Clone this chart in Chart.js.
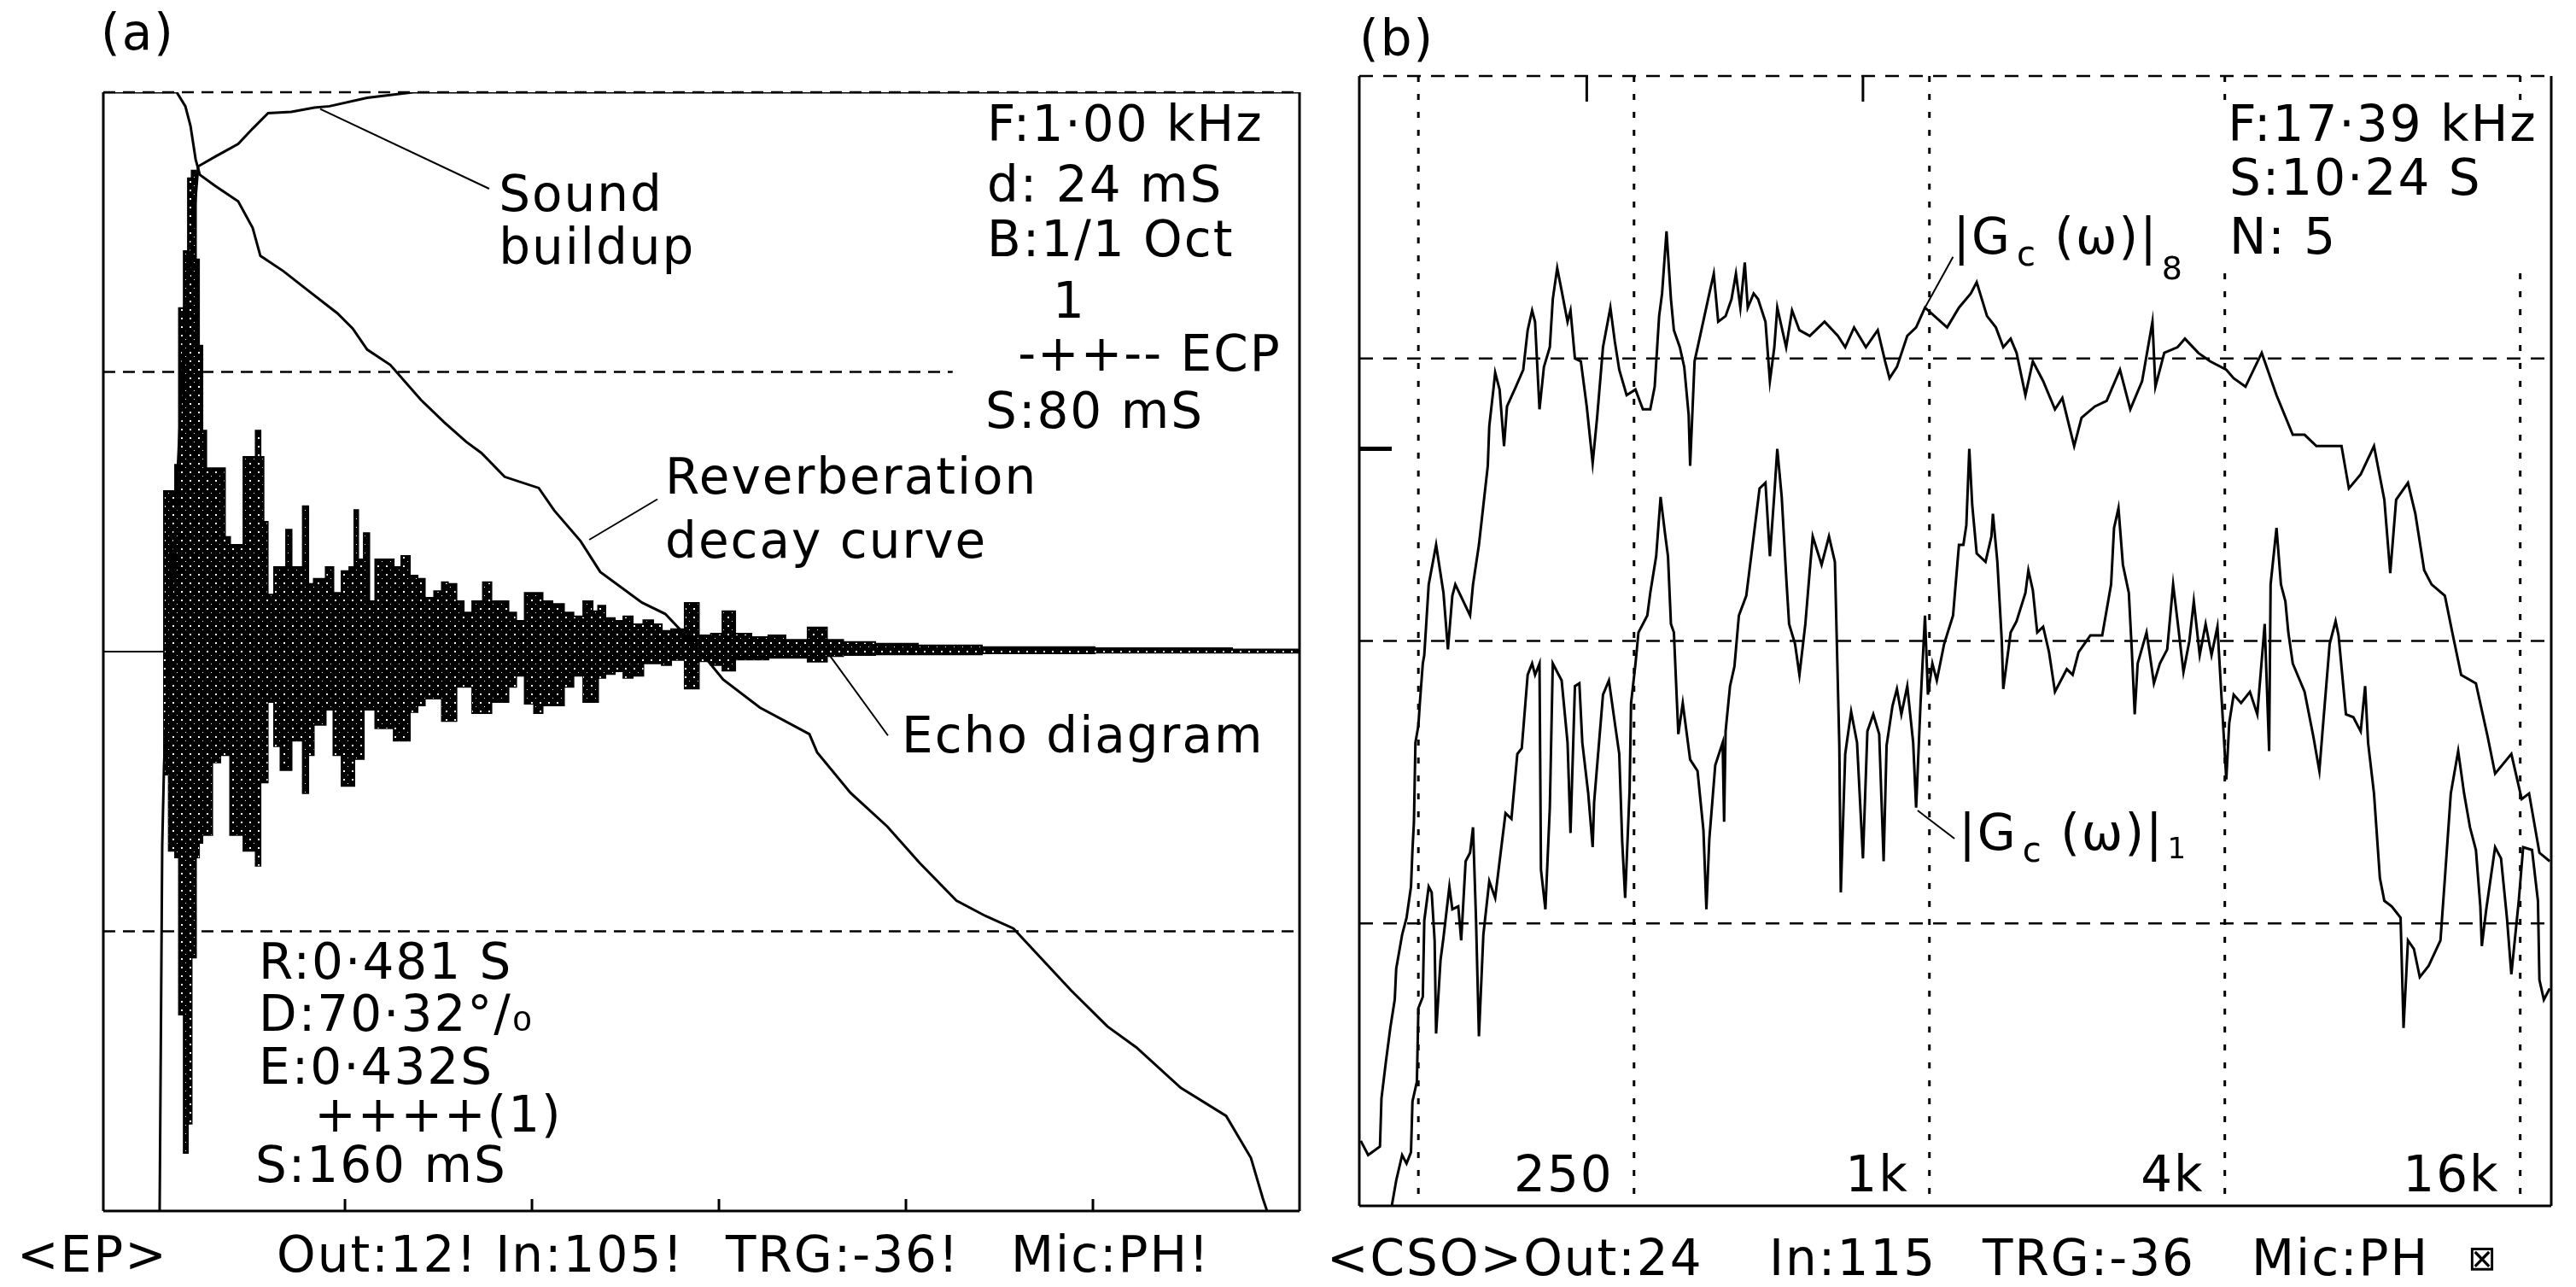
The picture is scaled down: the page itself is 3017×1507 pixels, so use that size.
<!DOCTYPE html>
<html lang="en">
<head>
<meta charset="UTF-8" />
<title>Echo diagram and frequency characteristics</title>
<script src="https://cdn.jsdelivr.net/npm/chart.js@4.4.0/dist/chart.umd.min.js"></script>
<style>
  * { margin: 0; padding: 0; box-sizing: border-box; }
  body { width: 3017px; height: 1507px; background: #fff; position: relative; overflow: hidden;
         font-family: 'DejaVu Sans', sans-serif; color: #000; }
  canvas { position: absolute; top: 0; }
  #chartA { left: 0; }
  #chartB { left: 1555px; }
  .txt { position: absolute; font-size: 58px; line-height: 58px; letter-spacing: 2px; white-space: pre; }
</style>
</head>
<body>
  <canvas id="chartA" width="1555" height="1507"></canvas>
  <canvas id="chartB" width="1462" height="1507"></canvas>

  <div class="txt" style="left:118px; top:9px">(a)</div>
  <div class="txt" style="left:1592px; top:16px">(b)</div>

  <div class="txt" style="left:20px; top:1440px">&lt;EP&gt;</div>
  <div class="txt" style="left:324px; top:1440px">Out:12! In:105!</div>
  <div class="txt" style="left:850px; top:1440px">TRG:-36!</div>
  <div class="txt" style="left:1184px; top:1440px">Mic:PH!</div>

  <div class="txt" style="left:1554px; top:1444px">&lt;CSO&gt;Out:24</div>
  <div class="txt" style="left:2072px; top:1444px">In:115</div>
  <div class="txt" style="left:2322px; top:1444px">TRG:-36</div>
  <div class="txt" style="left:2637px; top:1444px">Mic:PH</div>
  <div class="txt" style="left:2890px; top:1444px; font-size:40px">⊠</div>

<script>
// ---------- panel (a): time in ms, level in dB, echo amplitude relative ----------
const decayT  = [-23.4, 8.0, 11.7, 13.9, 16.1, 17.9, 24.5, 34.3, 40.5, 43.8,
                 53.7, 63.6, 76.7, 83.3, 89.5, 99.4, 112.5, 122.4, 131.9, 138.4,
                 148.3, 162.9, 169.5, 180.8, 189.2, 207.1, 217.0, 230.1, 241.8, 257.5,
                 278.7, 282.0, 296.3, 312.0, 325.8, 341.6, 354.0, 366.0, 390.5, 406.2,
                 418.6, 437.6, 457.0, 467.6, 472.7, 474.5];
const decayDb = [0, 0, -1.0, -2.4, -4.8, -5.9, -6.7, -7.8, -9.7, -11.7,
                 -12.8, -14.1, -15.8, -16.9, -18.4, -19.5, -22.0, -23.6, -25.0, -25.8,
                 -27.5, -28.3, -29.9, -32.1, -34.3, -36.5, -37.3, -39.6, -42.0, -44.0,
                 -45.9, -47.2, -50.1, -52.5, -55.1, -57.8, -58.9, -59.8, -64.2, -66.8,
                 -68.3, -71.2, -73.2, -76.2, -79.1, -80];

const buildT  = [0.7, 1.8, 2.6, 11.0, 17.2, 24.5, 34.3, 40.5, 47.1, 57.0, 66.9, 73.4, 89.5, 109.2, 488.4];
const buildDb = [-80, -53.9, -48.0, -17.8, -5.3, -4.6, -3.7, -2.6, -1.5, -1.4, -1.1, -1.0, -0.4, 0, 0];

const echoT = [-23.4, 2.5, 2.6, 6.6, 8.0, 9.9, 12.1, 13.5, 15.3, 17.2,
               17.9, 20.1, 21.2, 25.2, 28.1, 29.2, 32.5, 35.8, 37.3, 40.5,
               43.1, 44.6, 45.7, 48.2, 51.1, 53.7, 55.9, 58.4, 60.3, 63.6,
               65.0, 68.3, 70.1, 73.4, 76.7, 80.4, 83.3, 84.7, 86.6, 89.5,
               91.3, 94.6, 99.4, 102.3, 105.9, 109.6, 112.5, 115.8, 120.5, 122.4,
               125.7, 129.7, 131.9, 137.0, 141.0, 144.3, 148.3, 151.6, 154.9, 158.9,
               162.9, 166.2, 171.3, 176.1, 179.4, 184.5, 187.4, 189.2, 193.6, 197.3,
               200.9, 205.3, 210.0, 213.7, 217.4, 221.7, 229.0, 233.8, 239.3, 243.7,
               250.2, 257.5, 264.8, 272.1, 283.8, 288.6, 297.7, 316.0, 334.2, 370.8,
               430.7, 488.4];
const echoPos = [0, 0, 0.287, 0.287, 0.334, 0.614, 0.716, 0.846, 0.860, 0.701,
                 0.547, 0.395, 0.328, 0.328, 0.328, 0.205, 0.191, 0.191, 0.348, 0.348,
                 0.395, 0.348, 0.232, 0.102, 0.151, 0.151, 0.218, 0.151, 0.151, 0.260,
                 0.121, 0.130, 0.130, 0.151, 0.105, 0.144, 0.151, 0.253, 0.165, 0.212,
                 0.090, 0.165, 0.165, 0.151, 0.171, 0.136, 0.130, 0.096, 0.108, 0.124,
                 0.121, 0.090, 0.070, 0.090, 0.124, 0.090, 0.090, 0.070, 0.055, 0.105,
                 0.105, 0.090, 0.085, 0.070, 0.063, 0.090, 0.072, 0.082, 0.060, 0.055,
                 0.063, 0.049, 0.056, 0.049, 0.037, 0.040, 0.087, 0.029, 0.032, 0.072,
                 0.032, 0.026, 0.029, 0.021, 0.043, 0.021, 0.017, 0.014, 0.011, 0.008,
                 0.006, 0.004];
const echoNeg = [0, 0, -0.220, -0.356, -0.368, -0.649, -0.896, -0.844, -0.547, -0.368,
                 -0.342, -0.328, -0.328, -0.198, -0.185, -0.185, -0.328, -0.328, -0.356, -0.356,
                 -0.383, -0.234, -0.234, -0.090, -0.169, -0.212, -0.212, -0.159, -0.159, -0.253,
                 -0.185, -0.131, -0.131, -0.104, -0.185, -0.240, -0.240, -0.192, -0.192, -0.104,
                 -0.104, -0.137, -0.137, -0.159, -0.159, -0.108, -0.096, -0.084, -0.084, -0.124,
                 -0.124, -0.063, -0.063, -0.110, -0.110, -0.090, -0.090, -0.063, -0.043, -0.093,
                 -0.110, -0.096, -0.096, -0.063, -0.043, -0.090, -0.090, -0.047, -0.040, -0.035,
                 -0.047, -0.043, -0.021, -0.021, -0.024, -0.015, -0.066, -0.017, -0.024, -0.034,
                 -0.014, -0.014, -0.011, -0.011, -0.018, -0.008, -0.006, -0.005, -0.005, -0.003,
                 -0.002, -0.002];

const timeTicks = [80, 160, 240, 320, 400];
const levelGridA = [-20, -60];
const levelGridEndA = [340, 488.4];

// ---------- panel (b): frequency in octaves re 1 kHz, level in dB ----------
const g8Oct = [-3.85, -3.80, -3.72, -3.71, -3.68, -3.65, -3.62, -3.61, -3.57, -3.54,
               -3.51, -3.50, -3.49, -3.48, -3.46, -3.45, -3.43, -3.42, -3.39, -3.34,
               -3.29, -3.26, -3.23, -3.21, -3.11, -3.09, -3.05, -3.02, -2.99, -2.98,
               -2.95, -2.94, -2.91, -2.88, -2.86, -2.80, -2.75, -2.72, -2.69, -2.67,
               -2.64, -2.61, -2.57, -2.55, -2.52, -2.49, -2.45, -2.43, -2.40, -2.36,
               -2.32, -2.28, -2.25, -2.21, -2.16, -2.13, -2.10, -2.05, -1.99, -1.94,
               -1.89, -1.86, -1.83, -1.81, -1.78, -1.75, -1.73, -1.69, -1.66, -1.63,
               -1.62, -1.59, -1.54, -1.49, -1.46, -1.43, -1.38, -1.34, -1.31, -1.28,
               -1.25, -1.23, -1.19, -1.16, -1.11, -1.08, -1.05, -1.03, -0.97, -0.93,
               -0.88, -0.81, -0.71, -0.62, -0.57, -0.51, -0.43, -0.35, -0.30, -0.27,
               -0.22, -0.15, -0.09, -0.03, 0.12, 0.20, 0.28, 0.32, 0.39, 0.45,
               0.50, 0.55, 0.59, 0.65, 0.70, 0.77, 0.85, 0.90, 0.98, 1.03,
               1.12, 1.20, 1.29, 1.36, 1.44, 1.51, 1.53, 1.59, 1.68, 1.73,
               1.82, 1.90, 2.01, 2.06, 2.14, 2.25, 2.35, 2.46, 2.54, 2.62,
               2.79, 2.84, 2.92, 3.01, 3.08, 3.12, 3.16, 3.24, 3.29, 3.35,
               3.40, 3.49, 3.54, 3.60, 3.70, 3.78, 3.83, 3.94, 4.01, 4.06,
               4.13, 4.20];
const g8Db = [-37.7, -38.2, -37.9, -36.2, -34.9, -33.7, -32.7, -31.6, -30.4, -29.8,
              -28.7, -27.4, -26.4, -23.6, -23.0, -22.2, -20.8, -20.5, -18.0, -16.6,
              -18.3, -20.3, -18.4, -18.0, -19.1, -18.0, -16.6, -15.2, -13.8, -12.4,
              -11.0, -10.5, -11.1, -13.1, -11.7, -11.0, -10.4, -9.0, -8.3, -8.7,
              -11.8, -10.3, -9.6, -7.9, -6.8, -7.6, -8.7, -8.3, -10.0, -10.1,
              -11.7, -13.7, -12.1, -9.6, -8.2, -9.4, -10.4, -11.3, -11.1, -11.8,
              -11.8, -11.0, -8.5, -7.7, -5.5, -7.9, -9.0, -9.6, -10.3, -12.0,
              -13.8, -10.1, -8.9, -7.7, -7.0, -8.7, -8.5, -7.9, -7.0, -8.2,
              -6.6, -8.2, -7.7, -7.9, -8.7, -10.8, -9.6, -8.2, -9.6, -8.3,
              -9.0, -9.2, -8.7, -9.2, -9.6, -8.9, -9.6, -9.0, -10.1, -10.7,
              -10.3, -9.2, -8.9, -8.2, -8.9, -8.2, -7.7, -7.3, -8.5, -8.9,
              -9.6, -9.3, -9.8, -11.3, -10.1, -10.8, -11.8, -11.4, -13.1, -12.1,
              -11.7, -11.5, -10.4, -11.8, -10.8, -8.7, -11.0, -9.8, -9.6, -9.3,
              -9.8, -10.1, -10.4, -10.7, -11.0, -9.8, -11.3, -12.7, -12.7, -13.1,
              -13.1, -14.6, -14.1, -13.1, -15.0, -17.6, -15.0, -14.4, -15.5, -17.5,
              -18.0, -18.4, -19.7, -21.2, -21.5, -23.4, -24.7, -24.0, -25.6, -25.4,
              -27.5, -27.8];

const g1Oct = [-3.64, -3.61, -3.57, -3.54, -3.51, -3.50, -3.47, -3.46, -3.43, -3.42,
               -3.39, -3.37, -3.35, -3.34, -3.31, -3.29, -3.25, -3.23, -3.19, -3.17,
               -3.14, -3.11, -3.09, -3.07, -3.05, -3.02, -2.98, -2.94, -2.91, -2.87,
               -2.83, -2.79, -2.76, -2.72, -2.69, -2.67, -2.64, -2.63, -2.60, -2.57,
               -2.55, -2.49, -2.45, -2.43, -2.40, -2.37, -2.35, -2.31, -2.28, -2.27,
               -2.21, -2.17, -2.13, -2.10, -2.08, -2.06, -2.03, -2.02, -1.99, -1.97,
               -1.91, -1.89, -1.85, -1.82, -1.79, -1.77, -1.75, -1.73, -1.70, -1.67,
               -1.62, -1.57, -1.53, -1.51, -1.49, -1.45, -1.40, -1.39, -1.38, -1.35,
               -1.32, -1.29, -1.24, -1.19, -1.15, -1.11, -1.08, -1.05, -1.03, -1.00,
               -0.97, -0.95, -0.91, -0.88, -0.84, -0.81, -0.79, -0.73, -0.68, -0.64,
               -0.61, -0.60, -0.57, -0.53, -0.49, -0.45, -0.42, -0.38, -0.34, -0.31,
               -0.29, -0.25, -0.22, -0.19, -0.15, -0.11, -0.09, -0.06, -0.03, -0.01,
               0.02, 0.05, 0.10, 0.16, 0.20, 0.23, 0.25, 0.27, 0.29, 0.32,
               0.38, 0.42, 0.43, 0.46, 0.49, 0.50, 0.55, 0.59, 0.65, 0.67,
               0.70, 0.73, 0.77, 0.81, 0.85, 0.93, 0.97, 1.01, 1.09, 1.17,
               1.23, 1.25, 1.28, 1.31, 1.35, 1.37, 1.39, 1.41, 1.47, 1.49,
               1.52, 1.56, 1.61, 1.65, 1.68, 1.72, 1.76, 1.79, 1.83, 1.87,
               1.91, 1.95, 1.98, 2.01, 2.03, 2.06, 2.11, 2.17, 2.22, 2.27,
               2.30, 2.31, 2.35, 2.38, 2.41, 2.43, 2.46, 2.54, 2.60, 2.64,
               2.66, 2.71, 2.75, 2.77, 2.82, 2.87, 2.92, 2.95, 2.97, 3.01,
               3.05, 3.08, 3.13, 3.19, 3.21, 3.24, 3.28, 3.32, 3.38, 3.46,
               3.49, 3.53, 3.58, 3.62, 3.66, 3.70, 3.73, 3.74, 3.77, 3.83,
               3.87, 3.91, 3.94, 3.99, 4.02, 4.08, 4.12, 4.13, 4.16, 4.20];
const g1Db = [-40.0, -39.1, -38.2, -38.5, -38.1, -36.3, -35.6, -33.0, -32.6, -29.9,
              -28.7, -28.9, -30.6, -33.9, -31.3, -30.5, -28.7, -29.5, -29.4, -30.6,
              -27.8, -27.5, -26.6, -29.8, -34.0, -30.4, -28.5, -29.1, -27.8, -26.1,
              -26.3, -24.0, -23.8, -21.2, -20.8, -21.2, -20.8, -28.1, -29.5, -25.9,
              -20.8, -21.4, -23.6, -26.8, -21.6, -21.5, -23.6, -25.4, -27.3, -25.7,
              -21.9, -21.4, -22.9, -24.0, -27.1, -29.1, -25.3, -22.2, -20.8, -19.7,
              -19.1, -18.3, -17.0, -14.9, -16.2, -17.0, -19.4, -19.7, -23.3, -22.2,
              -24.2, -24.6, -26.7, -29.5, -27.0, -24.4, -23.6, -26.4, -23.2, -21.6,
              -20.9, -19.1, -18.4, -16.3, -14.6, -14.4, -17.0, -14.8, -13.2, -14.9,
              -17.7, -19.4, -20.1, -21.2, -19.4, -17.5, -16.3, -17.3, -16.3, -17.2,
              -23.7, -28.9, -24.0, -22.5, -23.6, -27.7, -23.2, -22.6, -23.3, -27.8,
              -23.7, -22.3, -21.7, -22.6, -21.6, -23.6, -25.9, -22.2, -19.1, -21.9,
              -20.8, -21.4, -20.1, -19.1, -16.6, -16.6, -15.9, -13.2, -15.2, -16.9,
              -17.2, -16.3, -15.5, -17.2, -20.0, -21.7, -19.7, -19.3, -18.3, -17.5,
              -18.2, -19.7, -19.5, -20.4, -21.8, -21.0, -21.2, -20.4, -19.8, -19.8,
              -18.0, -16.0, -15.3, -17.3, -18.3, -20.3, -22.6, -20.8, -19.7, -20.4,
              -21.5, -20.8, -20.3, -18.0, -19.3, -21.1, -20.0, -18.6, -20.5, -19.4,
              -20.5, -19.5, -22.2, -24.9, -22.9, -21.9, -22.2, -21.8, -22.6, -19.4,
              -23.9, -18.0, -16.0, -18.0, -18.6, -19.7, -20.8, -21.8, -23.4, -24.6,
              -23.3, -20.1, -19.3, -19.8, -22.6, -22.7, -23.2, -21.6, -23.6, -25.4,
              -28.4, -29.2, -29.4, -29.8, -33.7, -30.6, -30.9, -31.9, -31.5, -30.6,
              -28.4, -25.4, -23.9, -25.4, -26.6, -27.4, -29.4, -30.8, -29.5, -27.3,
              -27.7, -29.8, -31.8, -29.2, -27.3, -27.4, -29.2, -32.0, -32.7, -32.3];

const octGrid = [-3.46, -2, 0, 2, 4];
const octTicks = [-2, 0, 2, 4];
const octTickLabels = ['250', '1k', '4k', '16k'];
const levelGridB = [-10, -20, -30];
const topMarkOct = [-2.32, -0.45];
const refLevelDb = -13.2;

// ---------- helpers ----------
const pts = (xs, ys) => xs.map((x, i) => ({ x, y: ys[i] }));
const FONT = '"DejaVu Sans", sans-serif';

function text(ctx, s, x, y, size, opts = {}) {
  ctx.font = size + 'px ' + FONT;
  ctx.textAlign = opts.align || 'left';
  ctx.textBaseline = 'alphabetic';
  if (opts.clear) {
    const w = ctx.measureText(s).width;
    const x0 = opts.align === 'right' ? x - w : x;
    ctx.fillStyle = '#fff';
    ctx.fillRect(x0 - 6, y - size * 0.8, w + 12, size * 1.05);
  }
  ctx.fillStyle = '#000';
  ctx.fillText(s, x, y);
}

function rich(ctx, parts, x, y) {
  let cx = x;
  ctx.textAlign = 'left';
  ctx.fillStyle = '#000';
  parts.forEach(p => {
    ctx.font = p.size + 'px ' + FONT;
    ctx.fillText(p.s, cx, y + (p.dy || 0));
    cx += ctx.measureText(p.s).width + (p.gap || 0);
  });
}

function line(ctx, x1, y1, x2, y2) {
  ctx.beginPath(); ctx.moveTo(x1, y1); ctx.lineTo(x2, y2); ctx.stroke();
}

// stippled fill for the echo diagram
const tile = document.createElement('canvas');
tile.width = 10; tile.height = 10;
const tg = tile.getContext('2d');
tg.fillStyle = '#000'; tg.fillRect(0, 0, 10, 10);
tg.fillStyle = '#fff'; tg.fillRect(2, 2, 2, 2); tg.fillRect(7, 7, 1, 1);
const stipple = document.getElementById('chartA').getContext('2d').createPattern(tile, 'repeat');

// ---------- panel (a) ----------
const notesA = [
  { s: 'F:1·00 kHz', x: 354.7, y: -3.5 },
  { s: 'd: 24 mS', x: 354.7, y: -7.8 },
  { s: 'B:1/1 Oct', x: 354.7, y: -11.7 },
  { s: '1', x: 382.8, y: -16.1 },
  { s: '-++-- ECP', x: 367.9, y: -19.9 },
  { s: 'S:80 mS', x: 354.0, y: -24.0 },
  { s: 'Sound', x: 145.8, y: -8.5 },
  { s: 'buildup', x: 145.8, y: -12.3 },
  { s: 'Reverberation', x: 217.0, y: -28.7 },
  { s: 'decay curve', x: 217.0, y: -33.3 },
  { s: 'Echo diagram', x: 318.2, y: -47.2 },
  { s: 'R:0·481 S', x: 43.1, y: -63.4 },
  { s: 'D:70·32°/₀', x: 43.1, y: -67.1 },
  { s: 'E:0·432S', x: 43.1, y: -70.9 },
  { s: '++++(1)', x: 66.9, y: -74.3 },
  { s: 'S:160 mS', x: 41.6, y: -77.9 }
];
const leadersA = [[141.7, -6.9, 69.4, -1.2], [213.7, -29.1, 184.5, -32.0], [312.3, -46.0, 287.5, -40.3]];

const frameA = {
  id: 'frameA',
  beforeDatasetsDraw(chart) {
    const { ctx, chartArea: a, scales: { x, y } } = chart;
    ctx.save();
    ctx.strokeStyle = '#000';
    ctx.lineWidth = 2.5;
    ctx.setLineDash([14, 9]);
    levelGridA.forEach((db, i) => {
      const py = y.getPixelForValue(db);
      line(ctx, a.left, py, x.getPixelForValue(levelGridEndA[i]), py);
    });
    line(ctx, a.left, a.top, a.right, a.top);
    ctx.restore();
  },
  afterDatasetsDraw(chart) {
    const { ctx, chartArea: a, scales: { x, y } } = chart;
    ctx.save();
    ctx.strokeStyle = '#000';
    ctx.lineWidth = 3;
    line(ctx, a.left, a.top, a.left, a.bottom);
    line(ctx, a.right, a.top, a.right, a.bottom);
    line(ctx, a.left, a.bottom, a.right, a.bottom);
    timeTicks.forEach(t => {
      const px = x.getPixelForValue(t);
      line(ctx, px, a.bottom, px, a.bottom - 14);
    });
    ctx.lineWidth = 2;
    leadersA.forEach(l => line(ctx, x.getPixelForValue(l[0]), y.getPixelForValue(l[1]),
                                    x.getPixelForValue(l[2]), y.getPixelForValue(l[3])));
    ctx.letterSpacing = '2px';
    notesA.forEach(n => text(ctx, n.s, x.getPixelForValue(n.x), y.getPixelForValue(n.y), 58));
    ctx.restore();
  }
};

new Chart(document.getElementById('chartA'), {
  type: 'line',
  data: {
    datasets: [
      { label: 'Reverberation decay curve', data: pts(decayT, decayDb), yAxisID: 'y',
        borderColor: '#000', borderWidth: 3, pointRadius: 0, tension: 0, order: 0 },
      { label: 'Sound buildup', data: pts(buildT, buildDb), yAxisID: 'y',
        borderColor: '#000', borderWidth: 3, pointRadius: 0, tension: 0, order: 1 },
      { label: 'Echo diagram', data: pts(echoT, echoPos), yAxisID: 'yAmp',
        borderColor: '#000', borderWidth: 2, backgroundColor: stipple, fill: '+1',
        stepped: 'middle', pointRadius: 0, order: 2 },
      { label: 'Echo diagram (neg)', data: pts(echoT, echoNeg), yAxisID: 'yAmp',
        borderColor: '#000', borderWidth: 2, fill: false,
        stepped: 'middle', pointRadius: 0, order: 3 }
    ]
  },
  options: {
    responsive: false,
    animation: false,
    devicePixelRatio: 1,
    layout: { padding: { left: 121, right: 33, top: 108, bottom: 89 } },
    plugins: { legend: { display: false }, tooltip: { enabled: false } },
    scales: {
      x: { type: 'linear', min: -23.4, max: 488.4, display: false },
      y: { type: 'linear', min: -80, max: 0, display: false },
      yAmp: { type: 'linear', axis: 'y', min: -1, max: 1, display: false }
    }
  },
  plugins: [frameA]
});

// ---------- panel (b) ----------
const notesB = [
  { s: 'F:17·39 kHz', x: 2.02, y: -2.3 },
  { s: 'S:10·24 S', x: 2.03, y: -4.2 },
  { s: 'N: 5', x: 2.03, y: -6.3 }
];
const leadersB = [[-0.03, -8.2, 0.16, -6.4], [-0.08, -26.0, 0.17, -27.0]];

const frameB = {
  id: 'frameB',
  beforeDatasetsDraw(chart) {
    const { ctx, chartArea: a, scales: { x, y } } = chart;
    ctx.save();
    ctx.strokeStyle = '#000';
    ctx.lineWidth = 2.5;
    ctx.setLineDash([16, 12]);
    levelGridB.forEach(db => {
      const py = y.getPixelForValue(db);
      line(ctx, a.left, py, a.right, py);
    });
    line(ctx, a.left, a.top, a.right, a.top);
    ctx.lineWidth = 3;
    ctx.setLineDash([7, 14]);
    octGrid.forEach(o => {
      const px = x.getPixelForValue(o);
      line(ctx, px, a.top, px, a.bottom);
    });
    ctx.restore();
  },
  afterDatasetsDraw(chart) {
    const { ctx, chartArea: a, scales: { x, y } } = chart;
    ctx.save();
    ctx.strokeStyle = '#000';
    ctx.lineWidth = 3;
    line(ctx, a.left, a.top, a.left, a.bottom);
    line(ctx, a.right, a.top, a.right, a.bottom);
    line(ctx, a.left, a.bottom, a.right, a.bottom);
    topMarkOct.forEach(o => {
      const px = x.getPixelForValue(o);
      line(ctx, px, a.top, px, a.top + 30);
    });
    ctx.lineWidth = 5;
    const ry = y.getPixelForValue(refLevelDb);
    line(ctx, a.left, ry, a.left + 38, ry);
    ctx.lineWidth = 2;
    leadersB.forEach(l => line(ctx, x.getPixelForValue(l[0]), y.getPixelForValue(l[1]),
                                    x.getPixelForValue(l[2]), y.getPixelForValue(l[3])));
    ctx.letterSpacing = '2px';

    // clear one block behind the parameter readout, then write it
    ctx.font = '58px ' + FONT;
    const bx = x.getPixelForValue(Math.min(...notesB.map(n => n.x)));
    const bw = Math.max(...notesB.map(n => x.getPixelForValue(n.x) + ctx.measureText(n.s).width)) - bx;
    const by0 = y.getPixelForValue(notesB[0].y) - 48;
    const by1 = y.getPixelForValue(notesB[notesB.length - 1].y) + 22;
    ctx.fillStyle = '#fff';
    ctx.fillRect(bx - 8, by0, bw + 16, by1 - by0);
    notesB.forEach(n => text(ctx, n.s, x.getPixelForValue(n.x), y.getPixelForValue(n.y), 58));

    octTicks.forEach((o, i) => text(ctx, octTickLabels[i], x.getPixelForValue(o) - 24,
                                    y.getPixelForValue(-39.5), 58, { align: 'right', clear: true }));
    rich(ctx, [
      { s: '|G', size: 58, gap: 6 }, { s: 'c', size: 40, dy: 14 },
      { s: ' (ω)|', size: 58, gap: 4 }, { s: '8', size: 38, dy: 30 }
    ], x.getPixelForValue(0.16), y.getPixelForValue(-6.3));
    rich(ctx, [
      { s: '|G', size: 58, gap: 6 }, { s: 'c', size: 40, dy: 14 },
      { s: ' (ω)|', size: 58, gap: 4 }, { s: '1', size: 34, dy: 10 }
    ], x.getPixelForValue(0.20), y.getPixelForValue(-27.4));
    ctx.restore();
  }
};

new Chart(document.getElementById('chartB'), {
  type: 'line',
  data: {
    datasets: [
      { label: '|Gc(ω)|8', data: pts(g8Oct, g8Db), borderColor: '#000', borderWidth: 3,
        pointRadius: 0, tension: 0, fill: false },
      { label: '|Gc(ω)|1', data: pts(g1Oct, g1Db), borderColor: '#000', borderWidth: 3,
        pointRadius: 0, tension: 0, fill: false }
    ]
  },
  options: {
    responsive: false,
    animation: false,
    devicePixelRatio: 1,
    layout: { padding: { left: 37, right: 29, top: 89, bottom: 95 } },
    plugins: { legend: { display: false }, tooltip: { enabled: false } },
    scales: {
      x: { type: 'linear', min: -3.86, max: 4.21, display: false },
      y: { type: 'linear', min: -40, max: 0, display: false }
    }
  },
  plugins: [frameB]
});
</script>
</body>
</html>
